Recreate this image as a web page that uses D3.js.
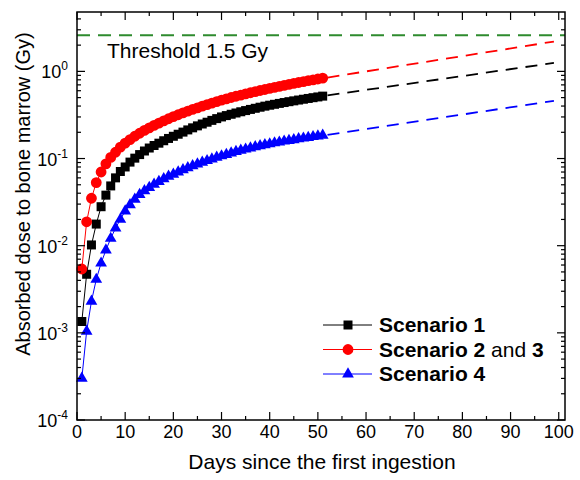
<!DOCTYPE html>
<html>
<head>
<meta charset="utf-8">
<script src="https://cdn.jsdelivr.net/npm/d3@7"></script>
<style>
  body { margin: 0; background: #fff; }
  text { font-family: "Liberation Sans", Arial, sans-serif; fill: #000; }
</style>
</head>
<body>
<div id="chart"></div>
<script>
// days 1..51 (computed points), then dashed projection to ~day 99
var days = d3.range(1, 52);

var scenario1 = [0.00135, 0.0047, 0.0102, 0.0177, 0.028, 0.038, 0.0485, 0.060, 0.071, 0.080,
  0.091, 0.101, 0.111, 0.122, 0.132, 0.141, 0.150, 0.160, 0.170, 0.180,
  0.190, 0.201, 0.213, 0.225, 0.237, 0.249, 0.261, 0.274, 0.287, 0.300,
  0.311, 0.322, 0.333, 0.344, 0.355, 0.366, 0.377, 0.388, 0.399, 0.409,
  0.419, 0.429, 0.439, 0.449, 0.459, 0.469, 0.479, 0.489, 0.499, 0.509, 0.520];

var scenario23 = [0.0054, 0.0188, 0.035, 0.053, 0.070, 0.087, 0.103, 0.118, 0.135, 0.150,
  0.165, 0.180, 0.195, 0.210, 0.225, 0.240, 0.255, 0.270, 0.286, 0.302,
  0.318, 0.334, 0.350, 0.366, 0.382, 0.399, 0.416, 0.433, 0.450, 0.467,
  0.484, 0.501, 0.518, 0.535, 0.552, 0.569, 0.586, 0.603, 0.620, 0.638,
  0.656, 0.674, 0.692, 0.710, 0.728, 0.746, 0.764, 0.782, 0.800, 0.818, 0.836];

var scenario4 = [0.0003, 0.00104, 0.0023, 0.0041, 0.0063, 0.0089, 0.0121, 0.0159, 0.0200, 0.0250,
  0.0295, 0.0340, 0.0385, 0.0425, 0.0465, 0.0505, 0.0545, 0.0585, 0.0625, 0.0660,
  0.0700, 0.0742, 0.0783, 0.0824, 0.0865, 0.0905, 0.0945, 0.0985, 0.103, 0.107,
  0.111, 0.1155, 0.120, 0.124, 0.128, 0.132, 0.136, 0.140, 0.144, 0.147,
  0.151, 0.154, 0.158, 0.161, 0.164, 0.168, 0.171, 0.174, 0.178, 0.181, 0.185];

// dashed projections [day, dose]
var proj1 = [[52, 0.53], [99, 1.25]];
var proj23 = [[52, 0.85], [99, 2.2]];
var proj4 = [[52, 0.187], [99, 0.46]];

var thresholdDose = 2.6;
var thresholdLabel = "Threshold 1.5 Gy";

var xTicks = [0, 10, 20, 30, 40, 50, 60, 70, 80, 90, 100];
var yExponents = [-4, -3, -2, -1, 0];

var svgWidth = 580;
var svgHeight = 480;
var margin = { top: 12, right: 15, bottom: 60, left: 77 };
var width = svgWidth - margin.left - margin.right;
var height = svgHeight - margin.top - margin.bottom;

var svg = d3.select("#chart")
  .append("svg")
  .attr("width", svgWidth)
  .attr("height", svgHeight);

var chartGroup = svg.append("g")
  .attr("transform", `translate(${margin.left}, ${margin.top})`);

var x = d3.scaleLinear().domain([0, 101.3]).range([0, width]);
var y = d3.scaleLog().domain([1e-4, 4.8]).range([height, 0]);

var series = [
  { name: "s1", values: scenario1, proj: proj1, color: "#000000", symbol: d3.symbolSquare, size: 81 },
  { name: "s23", values: scenario23, proj: proj23, color: "#ff0000", symbol: d3.symbolCircle, size: 92 },
  { name: "s4", values: scenario4, proj: proj4, color: "#0000ff", symbol: d3.symbolTriangle, size: 60 }
];

var line = d3.line().x(d => x(d[0])).y(d => y(d[1]));

// threshold
chartGroup.append("line")
  .attr("x1", 0).attr("x2", width)
  .attr("y1", y(thresholdDose)).attr("y2", y(thresholdDose))
  .attr("stroke", "#2e8b2e")
  .attr("stroke-width", 2)
  .attr("stroke-dasharray", "13,8");

chartGroup.append("text")
  .attr("x", 30)
  .attr("y", 46)
  .attr("font-size", "21px")
  .text(thresholdLabel);

series.forEach(function(s) {
  var pts = days.map((d, i) => [d, s.values[i]]);

  chartGroup.append("path")
    .datum(pts)
    .attr("d", line)
    .attr("fill", "none")
    .attr("stroke", s.color)
    .attr("stroke-width", 1);

  chartGroup.append("path")
    .datum(s.proj)
    .attr("d", line)
    .attr("fill", "none")
    .attr("stroke", s.color)
    .attr("stroke-width", 1.8)
    .attr("stroke-dasharray", "12,8");

  chartGroup.selectAll("path.m-" + s.name)
    .data(pts)
    .enter()
    .append("path")
    .attr("class", "m-" + s.name)
    .attr("transform", d => `translate(${x(d[0])}, ${y(d[1])})`)
    .attr("d", d3.symbol().type(s.symbol).size(s.size))
    .attr("fill", s.color);
});

// frame
chartGroup.append("rect")
  .attr("width", width).attr("height", height)
  .attr("fill", "none")
  .attr("stroke", "#000")
  .attr("stroke-width", 1.5);

// x ticks (bottom and top, pointing inward)
var xMinor = d3.range(0, 101, 5);
xMinor.forEach(function(v) {
  var len = v % 10 === 0 ? 8 : 4;
  chartGroup.append("line")
    .attr("x1", x(v)).attr("x2", x(v))
    .attr("y1", height).attr("y2", height - len)
    .attr("stroke", "#000").attr("stroke-width", 1.2);
  chartGroup.append("line")
    .attr("x1", x(v)).attr("x2", x(v))
    .attr("y1", 0).attr("y2", len)
    .attr("stroke", "#000").attr("stroke-width", 1.2);
});

chartGroup.selectAll("text.xtick")
  .data(xTicks)
  .enter()
  .append("text")
  .attr("class", "xtick")
  .attr("x", d => x(d))
  .attr("y", height + 18)
  .attr("text-anchor", "middle")
  .attr("font-size", "18px")
  .text(d => d);

// y ticks (log), left and right
var yTickVals = y.ticks();
yTickVals.forEach(function(v) {
  var major = Math.abs(Math.log10(v) - Math.round(Math.log10(v))) < 1e-9;
  var len = major ? 8 : 4;
  chartGroup.append("line")
    .attr("x1", 0).attr("x2", len)
    .attr("y1", y(v)).attr("y2", y(v))
    .attr("stroke", "#000").attr("stroke-width", 1.2);
  chartGroup.append("line")
    .attr("x1", width).attr("x2", width - len)
    .attr("y1", y(v)).attr("y2", y(v))
    .attr("stroke", "#000").attr("stroke-width", 1.2);
});

var yLabels = chartGroup.selectAll("text.ytick")
  .data(yExponents)
  .enter()
  .append("text")
  .attr("class", "ytick")
  .attr("x", -9)
  .attr("y", d => y(Math.pow(10, d)) + 7)
  .attr("text-anchor", "end")
  .attr("font-size", "18px");
yLabels.append("tspan").text("10");
yLabels.append("tspan")
  .attr("dy", -8)
  .attr("font-size", "12px")
  .text(d => d === 0 ? "0" : "-" + Math.abs(d));

// axis titles
chartGroup.append("text")
  .attr("transform", `translate(${width / 2 + 1}, ${height + 49})`)
  .attr("text-anchor", "middle")
  .attr("font-size", "21px")
  .text("Days since the first ingestion");

chartGroup.append("text")
  .attr("transform", "rotate(-90)")
  .attr("x", -182)
  .attr("y", -47)
  .attr("text-anchor", "middle")
  .attr("font-size", "20px")
  .text("Absorbed dose to bone marrow (Gy)");

// legend
var legend = chartGroup.append("g")
  .attr("transform", "translate(246, 313)");

series.forEach(function(s, i) {
  var row = legend.append("g").attr("transform", `translate(0, ${i * 24.5})`);
  row.append("line")
    .attr("x1", 0).attr("x2", 49)
    .attr("stroke", s.color)
    .attr("stroke-width", 1);
  row.append("path")
    .attr("transform", "translate(25, 0)")
    .attr("d", d3.symbol().type(s.symbol).size(s.size))
    .attr("fill", s.color);
});

var legendText = [
  [["Scenario 1", "bold"]],
  [["Scenario 2", "bold"], [" and ", "normal"], ["3", "bold"]],
  [["Scenario 4", "bold"]]
];
legendText.forEach(function(parts, i) {
  var t = legend.append("text")
    .attr("x", 56)
    .attr("y", i * 24.5 + 7)
    .attr("font-size", "21px");
  parts.forEach(function(p) {
    t.append("tspan").attr("font-weight", p[1]).text(p[0]);
  });
});
</script>
</body>
</html>
